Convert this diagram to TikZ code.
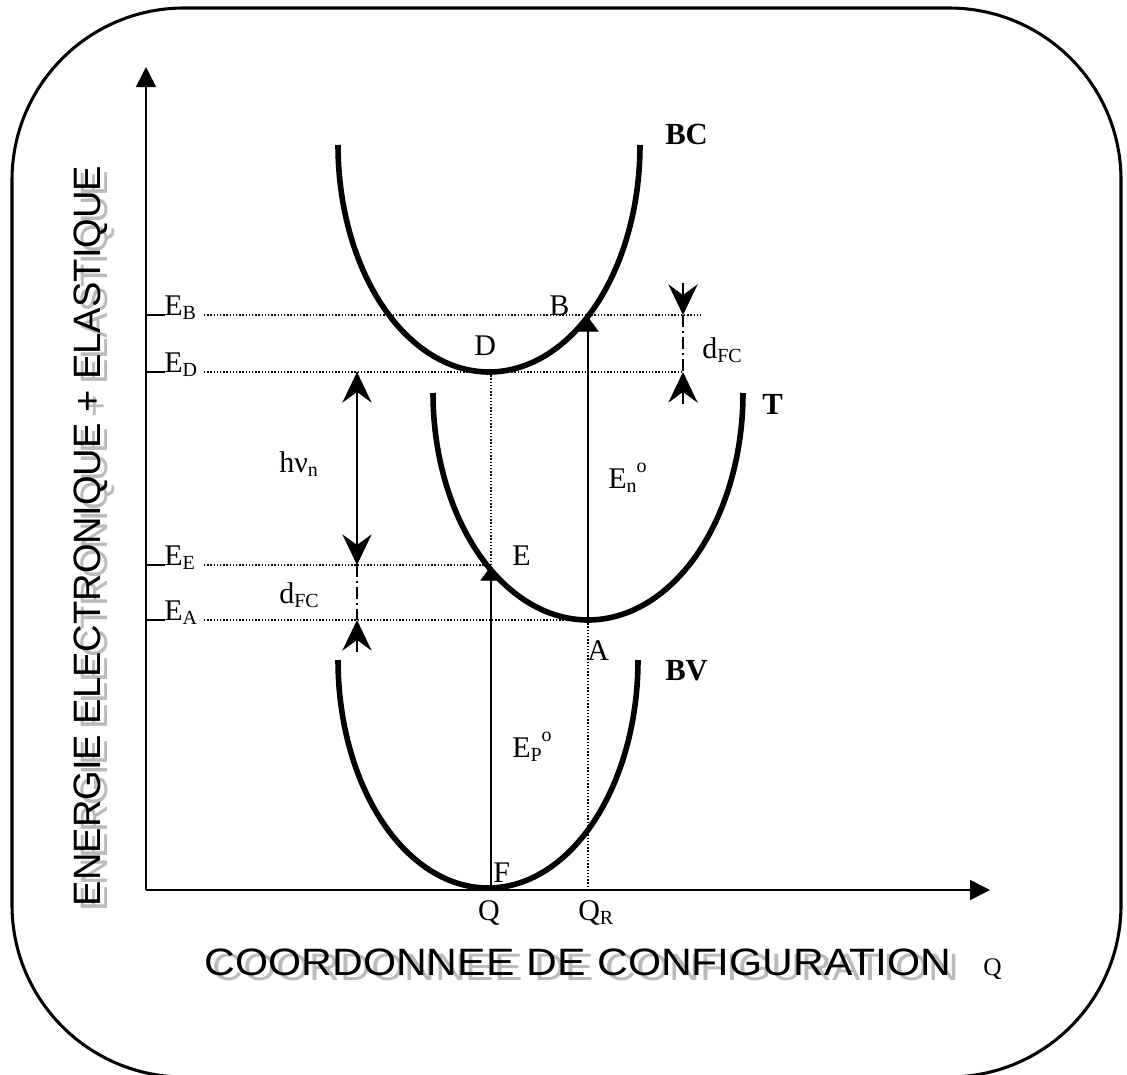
\documentclass[tikz,border=0pt]{standalone}
\usepackage{fontspec}
\setmainfont{Liberation Serif}
\newfontfamily\arialf{Liberation Sans}
\usetikzlibrary{arrows.meta,calc}
\newcommand\lsub[1]{\raisebox{-0.3ex}{\fontsize{15}{15}\selectfont #1}}
\newcommand\lsup[1]{\raisebox{1.15ex}{\fontsize{15}{15}\selectfont #1}}
\newcommand\shadowed[1]{\makebox[0pt][l]{\hspace{5.5pt}\raisebox{-3.8pt}{\color{black!27}#1}}#1}
\newcommand\shadowedv[1]{\makebox[0pt][l]{\hspace{-3.8pt}\raisebox{-5.5pt}{\color{black!27}#1}}#1}
\begin{document}
\begin{tikzpicture}[x=0.75pt,y=-0.75pt,
  lbl/.style={font=\fontsize{22.5}{22.5}\selectfont, inner sep=0pt, anchor=base west},
  blbl/.style={font=\fontsize{23}{23}\selectfont\bfseries, inner sep=0pt, anchor=base west},
  curve/.style={line width=4.2pt},
  dotl/.style={line width=0.9pt, dash pattern=on 1.1pt off 1.3pt},
  dashdotl/.style={line width=1.2pt, dash pattern=on 9pt off 3pt on 1.5pt off 3pt},
  axis/.style={line width=1.1pt, -{Triangle[length=15pt,width=15pt]}},
  trans/.style={line width=0.9pt, -{Triangle[length=11pt,width=16pt]}},
  stl/.style={line width=1.2pt, -{Stealth[length=23pt,width=22pt,inset=8pt]}},
  tickl/.style={line width=1.1pt},
  axtxt/.style={font=\arialf\fontsize{28.6}{28.6}\selectfont, inner sep=0pt, text=black},
]
\useasboundingbox (0,0) rectangle (1127,1074);
% frame
\begin{scope}
\clip (0,0) rectangle (1127,1074);
\draw[line width=2.3pt, rounded corners=129pt] (12,8) rectangle (1121,1077);
\end{scope}

% coordinates
\coordinate (O) at (146,890);
\coordinate (Ytip) at (146,67);
\coordinate (Xtip) at (990,890);
\coordinate (F) at (491,890);
\coordinate (E) at (491,566);
\coordinate (D) at (491,372);
\coordinate (A) at (588,620);
\coordinate (B) at (588,317);
\coordinate (QR) at (588,890);

% axes
\draw[axis] (O) -- (Ytip);
\draw[axis] (O) -- (Xtip);

% curves (half ellipses)
\draw[curve] plot[domain=180:360, samples=80, smooth] ({489+151*cos(\x)}, {145-227*sin(\x)});
\draw[curve] plot[domain=180:360, samples=80, smooth] ({588+155*cos(\x)}, {393-227*sin(\x)});
\draw[curve] plot[domain=180:360, samples=80, smooth] ({488+150*cos(\x)}, {660-228*sin(\x)});

% level ticks and dotted lines
\foreach \n/\y/\xe in {EB/315/702, ED/372/683, EE/565/491, EA/620/588}{
  \coordinate (t0\n) at (146,\y);
  \coordinate (t1\n) at (165,\y);
  \coordinate (d0\n) at (204,\y);
  \coordinate (d1\n) at (\xe,\y);
  \draw[tickl] (t0\n) -- (t1\n);
  \draw[dotl] (d0\n) -- (d1\n);
}
\node[lbl] (lEB) at (164,315) {E\lsub{B}};
\node[lbl] (lED) at (164,372) {E\lsub{D}};
\node[lbl] (lEE) at (164,565) {E\lsub{E}};
\node[lbl] (lEA) at (164,620) {E\lsub{A}};

% vertical dotted
\draw[dotl] (D) -- (E);
\draw[dotl] (A) -- (QR);

% transitions
\draw[trans] (F) -- (E);
\draw[trans] (A) -- (B);

% h nu and d_FC (left)
\coordinate (hT) at (357,372);
\coordinate (hB) at (357,565);
\coordinate (hA) at (357,620);
\coordinate (hAt) at (357,652);
\coordinate (hM) at (357,468);
\draw[dashdotl] (hT) -- (hB);
\draw[stl] (hM) -- (hT);
\draw[stl] (hM) -- (hB);
\draw[dashdotl] (hB) -- (hA);
\draw[stl] (hAt) -- (hA);

% d_FC (right)
\coordinate (rT0) at (683,283);
\coordinate (rT) at (683,315);
\coordinate (rB) at (683,372);
\coordinate (rB0) at (683,404);
\draw[dashdotl] (rT) -- (rB);
\draw[stl] (rT0) -- (rT);
\draw[stl] (rB0) -- (rB);

% point labels
\node[lbl] (lB) at (549,315) {B};
\node[lbl] (lD) at (474,355) {D};
\node[lbl] (lE) at (512,565) {E};
\node[lbl] (lA) at (587,660) {A};
\node[lbl] (lF) at (493,882) {F};
\node[lbl, anchor=base] (lQ) at (489,920) {Q};
\node[lbl] (lQR) at (578,920) {Q\lsub{R}};
\node[lbl] (lEn) at (608,488) {E\lsub{n}\lsup{o}};
\node[lbl] (lEp) at (512,757) {E\lsub{P}\lsup{o}};
\node[lbl] (lhn) at (279,472) {hν\lsub{n}};
\node[lbl] (ldl) at (279,603) {d\lsub{FC}};
\node[lbl] (ldr) at (702,358) {d\lsub{FC}};
\node[blbl] (lBC) at (665,144) {BC};
\node[blbl] (lT) at (762,414) {T};
\node[blbl] (lBV) at (665,680) {BV};
\node[lbl, font=\fontsize{19}{19}\selectfont] (lQax) at (983,975) {Q};

% axis titles with shadow
\node[axtxt, rotate=90, anchor=base] (ytit) at (100,536) {\shadowedv{ENERGIE ELECTRONIQUE + ELASTIQUE}};
\node[axtxt, anchor=base] (xtit) at (578,975) {\scalebox{1.117}[1]{\shadowed{COORDONNEE DE CONFIGURATION}}};
\end{tikzpicture}
\end{document}
